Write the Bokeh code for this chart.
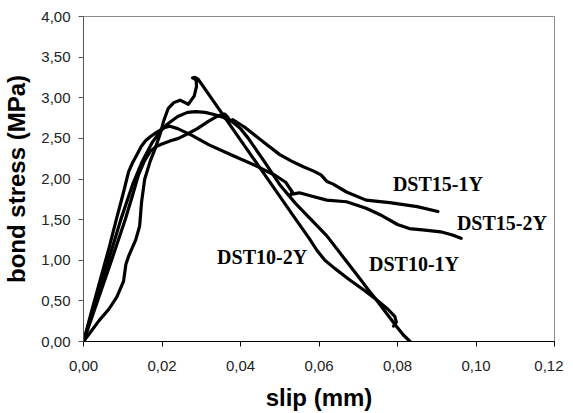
from bokeh.plotting import figure
from bokeh.models import Range1d, FixedTicker, CustomJSTickFormatter
from bokeh.core.properties import value
from bokeh.embed import file_html
from bokeh.resources import INLINE

# ---- data ----
x_ticks = [0.00, 0.02, 0.04, 0.06, 0.08, 0.10, 0.12]
y_ticks = [0.0, 0.5, 1.0, 1.5, 2.0, 2.5, 3.0, 3.5, 4.0]

dst10_2y_x = [0, 0.002, 0.004, 0.0065, 0.0085, 0.0102, 0.0108, 0.0115, 0.0133, 0.0143,
              0.0148, 0.0156, 0.0170, 0.0183, 0.0195, 0.0204, 0.0216, 0.0230, 0.0246,
              0.0267, 0.0282, 0.0288, 0.0287, 0.0278, 0.0284, 0.0292, 0.054, 0.0575,
              0.0595, 0.0615, 0.064, 0.0675, 0.0715, 0.0745, 0.0775, 0.0793, 0.0797, 0.0790]
dst10_2y_y = [0, 0.13, 0.26, 0.40, 0.55, 0.74, 0.95, 1.05, 1.25, 1.42,
              1.72, 2.00, 2.22, 2.38, 2.55, 2.71, 2.87, 2.94, 2.97,
              2.92, 3.02, 3.14, 3.22, 3.245, 3.25, 3.23, 1.51, 1.27,
              1.12, 1.00, 0.90, 0.77, 0.63, 0.52, 0.40, 0.31, 0.24, 0.19]

dst10_1y_x = [0, 0.003, 0.0065, 0.0095, 0.0125, 0.015, 0.0175, 0.0198, 0.0215, 0.024,
              0.0265, 0.0285, 0.031, 0.0335, 0.0355, 0.0375, 0.040, 0.042, 0.046, 0.050,
              0.054, 0.058, 0.062, 0.066, 0.070, 0.0725, 0.0745, 0.077, 0.0795, 0.0815, 0.0832]
dst10_1y_y = [0, 0.48, 1.02, 1.50, 1.93, 2.22, 2.45, 2.60, 2.68, 2.77,
              2.82, 2.83, 2.82, 2.79, 2.76, 2.72, 2.62, 2.50, 2.22, 1.93,
              1.70, 1.50, 1.30, 1.05, 0.80, 0.64, 0.52, 0.36, 0.20, 0.08, 0.0]

dst15_1y_x = [0, 0.003, 0.007, 0.0107, 0.0125, 0.014, 0.0155, 0.017, 0.0185, 0.020,
              0.0222, 0.0242, 0.0267, 0.029, 0.0318, 0.034, 0.0355, 0.036, 0.0368, 0.0372,
              0.038, 0.041, 0.046, 0.050, 0.053, 0.056, 0.0585, 0.0605, 0.062, 0.0635,
              0.067, 0.072, 0.078, 0.085, 0.0903]
dst15_1y_y = [0, 0.42, 0.98, 1.51, 1.80, 2.05, 2.22, 2.34, 2.40, 2.43,
              2.47, 2.50, 2.56, 2.62, 2.71, 2.77, 2.80, 2.80, 2.76, 2.71,
              2.73, 2.64, 2.45, 2.30, 2.22, 2.15, 2.10, 2.05, 1.97, 1.94,
              1.84, 1.74, 1.71, 1.66, 1.60]

dst15_2y_x = [0, 0.002, 0.0045, 0.0065, 0.0084, 0.010, 0.0115, 0.0125, 0.0135, 0.0147,
              0.0158, 0.017, 0.0185, 0.0205, 0.022, 0.024, 0.0275, 0.032, 0.038, 0.0445,
              0.049, 0.0515, 0.0532, 0.0528, 0.055, 0.058, 0.062, 0.067, 0.072, 0.076,
              0.080, 0.083, 0.087, 0.091, 0.094, 0.0962]
dst15_2y_y = [0, 0.36, 0.80, 1.15, 1.51, 1.80, 2.09, 2.20, 2.29, 2.40,
              2.47, 2.52, 2.57, 2.63, 2.65, 2.62, 2.54, 2.42, 2.29, 2.15,
              2.04, 1.96, 1.84, 1.81, 1.83, 1.79, 1.74, 1.72, 1.64, 1.55,
              1.44, 1.39, 1.37, 1.35, 1.31, 1.27]

label_names = ["DST15-1Y", "DST15-2Y", "DST10-1Y", "DST10-2Y"]
label_x = [0.0903, 0.1066, 0.0842, 0.0455]
label_y = [1.935, 1.455, 0.951, 1.037]

# ---- figure ----
p = figure(frame_width=471, frame_height=325,
           x_range=Range1d(0, 0.12), y_range=Range1d(0, 4),
           output_backend="svg", toolbar_location=None,
           min_border_left=82, min_border_right=9, min_border_top=16, min_border_bottom=58,
           background_fill_color="white", border_fill_color="white")

p.xgrid.visible = False
p.ygrid.visible = False
p.outline_line_color = "#8c8c8c"
p.outline_line_width = 1

fmt = CustomJSTickFormatter(code="return tick.toFixed(2).replace('.', ',');")
p.xaxis.ticker = FixedTicker(ticks=x_ticks)
p.yaxis.ticker = FixedTicker(ticks=y_ticks)
p.xaxis.formatter = fmt
p.yaxis.formatter = fmt

for ax in (p.xaxis, p.yaxis):
    ax.major_tick_in = 0
    ax.major_tick_out = 5
    ax.minor_tick_in = 0
    ax.minor_tick_out = 0
    ax.major_label_text_font = "Liberation Sans"
    ax.major_label_text_font_size = "15px"
    ax.major_label_text_color = "#222222"
    ax.axis_label_text_font = "Liberation Sans"
    ax.axis_label_text_font_style = "bold"
    ax.axis_label_text_font_size = "24px"
    ax.axis_label_text_color = "black"

p.xaxis.axis_line_color = "black"
p.xaxis.major_tick_line_color = "black"
p.yaxis.axis_line_color = "#555555"
p.yaxis.major_tick_line_color = "#555555"
p.xaxis.major_label_standoff = 14
p.yaxis.major_label_standoff = 8
p.xaxis.axis_label_standoff = 10
p.yaxis.axis_label_standoff = 8
p.xaxis.axis_label = "slip (mm)"
p.yaxis.axis_label = "bond stress (MPa)"

for xs, ys in [(dst10_2y_x, dst10_2y_y), (dst10_1y_x, dst10_1y_y),
               (dst15_1y_x, dst15_1y_y), (dst15_2y_x, dst15_2y_y)]:
    p.line(xs, ys, line_width=3.2, line_color="black",
           line_join="round", line_cap="round")

p.text(x=label_x, y=label_y, text=label_names,
       text_font=value("Liberation Serif"), text_font_style="bold",
       text_font_size="20px", text_color="black",
       text_align="center", text_baseline="middle")

open("out.html", "w").write(file_html(p, INLINE))
